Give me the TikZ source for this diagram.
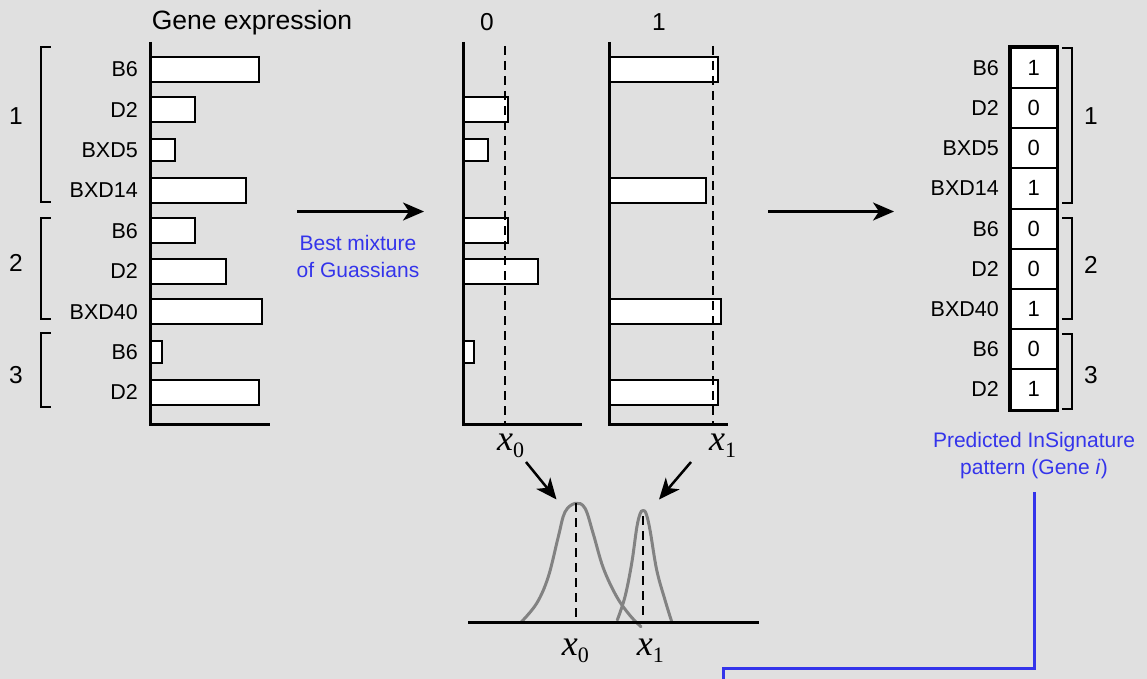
\documentclass[tikz,border=0pt]{standalone}
\usepackage{fontspec}
\setmainfont{Liberation Sans}
\newfontfamily\seriffont{Liberation Serif}
\usetikzlibrary{arrows.meta}
\definecolor{bg}{RGB}{224,224,224}
\definecolor{txtblue}{RGB}{52,52,235}
\definecolor{curvegray}{RGB}{130,130,130}
\newcommand{\xlab}[1]{{\seriffont\fontsize{36}{40}\selectfont\itshape x}{\seriffont\fontsize{22}{24}\selectfont\raisebox{-7.5pt}{#1}}}
\begin{document}
\begin{tikzpicture}[x=1pt,y=-1pt,
  lbl/.style={font=\fontsize{21.5}{24}\selectfont, anchor=east, inner sep=0pt},
  head/.style={font=\fontsize{24.5}{28}\selectfont, inner sep=0pt},
  bar/.style={draw=black, fill=white, line width=2pt},
  axisline/.style={line width=3pt, line join=miter},
  dashline/.style={dash pattern=on 9pt off 6pt, line width=2.2pt},
  brk/.style={line width=2pt},
  bluetxt/.style={text=txtblue, font=\fontsize{21}{27}\selectfont, align=center, inner sep=0pt},
  flow/.style={-{Stealth[length=21pt,width=18pt,inset=6pt]}, line width=2.5pt},
  cell/.style={draw=black, fill=white, line width=2pt, minimum width=46pt, minimum height=40.2pt, inner sep=0pt, font=\fontsize{22}{24}\selectfont},
  gcurve/.style={curvegray, line width=3pt, line cap=round},
  blueline/.style={draw=txtblue, line width=3pt}
]
\fill[bg] (0,0) rectangle (1147,679);
\useasboundingbox (0,0) rectangle (1147,679);

% ---------- headers ----------
\node[head, font=\fontsize{26.5}{30}\selectfont, anchor=base] (ge) at (252,30) {Gene expression};
\node[head, anchor=base] (h0) at (487,30.5) {0};
\node[head, anchor=base] (h1) at (659,30.5) {1};

% ---------- left panel ----------
\foreach \lab [count=\i from 0] in {B6,D2,BXD5,BXD14,B6,D2,BXD40,B6,D2}
  \node[lbl] (L\i) at (138,{69.5+40.35*\i}) {\lab};
\foreach \r/\w/\h in {0/259/12.5,1/195/12.5,2/175/11,3/246/12.5,4/195/12.5,5/226/12.5,6/262/12.5,7/162/11,8/259/12.5}
  \draw[bar] (150,{69.5+40.35*\r-\h}) rectangle (\w,{69.5+40.35*\r+\h});
\draw[axisline] (150,42) -- (150,424) -- (270,424);
\draw[brk] (50.5,47) -- (40.7,47) -- (40.7,202) -- (50.5,202);
\draw[brk] (50.5,218) -- (40.7,218) -- (40.7,319) -- (50.5,319);
\draw[brk] (50.5,333) -- (40.7,333) -- (40.7,407) -- (50.5,407);
\node[head] (n1) at (16,116) {1};
\node[head] (n2) at (16,263) {2};
\node[head] (n3) at (16,375) {3};

% ---------- arrow 1 ----------
\coordinate (a1s) at (297,211.5);
\coordinate (a1e) at (424,211.5);
\draw[flow] (a1s) -- (a1e);
\node[bluetxt, anchor=north] (bm) at (358,235) {Best mixture\\of Guassians};

% ---------- panel 0 ----------
\foreach \r/\w/\h in {1/507.7/12.5,2/487.7/11,4/507.5/12.5,5/538/12.5,7/474.3/11}
  \draw[bar] (463,{69.5+40.35*\r-\h}) rectangle (\w,{69.5+40.35*\r+\h});
\draw[axisline] (463,42) -- (463,424) -- (582,424);
\draw[dashline] (505,46) -- (505,424);
\node[anchor=base west, inner sep=0pt] (x0a) at (497,450) {\xlab{0}};

% ---------- panel 1 ----------
\foreach \r/\w/\h in {0/718.3/12.5,3/705.7/12.5,6/721/12.5,8/717.7/12.5}
  \draw[bar] (609,{69.5+40.35*\r-\h}) rectangle (\w,{69.5+40.35*\r+\h});
\draw[axisline] (609,42) -- (609,424) -- (728,424);
\draw[dashline] (712.7,46) -- (712.7,424);
\node[anchor=base west, inner sep=0pt] (x1a) at (709,450) {\xlab{1}};

% ---------- arrow 2 ----------
\coordinate (a2s) at (768,211.5);
\coordinate (a2e) at (894,211.5);
\draw[flow] (a2s) -- (a2e);

% ---------- gaussians ----------
\coordinate (g0peak) at (575.7,503.3);
\coordinate (g1peak) at (643,511);
\coordinate (t0) at (526,462);
\coordinate (t1) at (691,462);
\draw[flow] (t0) -- (556.5,499.5);
\draw[flow] (t1) -- (659,499.5);
\draw[gcurve] plot[smooth, tension=0.6] coordinates {(521,622.3) (536.7,603.3) (548.3,576.7) (558.3,536.7) (565,512) (575.5,503.3) (585,508.3) (593.3,534) (603.3,568) (616.7,596.7) (630,615.5) (641,626.7)};
\draw[gcurve] plot[smooth, tension=0.6] coordinates {(617.3,620) (625,596.7) (631.7,563.3) (636.7,528) (640,514) (642.7,510.7) (646,513.3) (650,530) (656.7,570) (665,600) (671.7,621.7)};
\draw[line width=3pt] (468,622.3) -- (759,622.3);
\draw[dashline] (g0peak) -- (575.7,622.3);
\draw[dashline] (643.3,516) -- (643.3,622.3);
\node[anchor=base west, inner sep=0pt] (x0b) at (561.7,655) {\xlab{0}};
\node[anchor=base west, inner sep=0pt] (x1b) at (636.7,655) {\xlab{1}};

% ---------- right panel ----------
\foreach \lab/\d [count=\i from 0] in {B6/1,D2/0,BXD5/0,BXD14/1,B6/0,D2/0,BXD40/1,B6/0,D2/1}{
  \node[cell] (c\i) at (1033.7,{67.8+40.2*\i}) {\d};
  \node[lbl] (R\i) at (999,{67.8+40.2*\i}) {\lab};
}
\draw[line width=3.5pt] (c0.north west) rectangle (c8.south east);
\draw[brk] (1062,48.3) -- (1072,48.3) -- (1072,203.3) -- (1062,203.3);
\draw[brk] (1062,218) -- (1072,218) -- (1072,319) -- (1062,319);
\draw[brk] (1062,334) -- (1072,334) -- (1072,409) -- (1062,409);
\node[head] (m1) at (1091,116) {1};
\node[head] (m2) at (1091,265) {2};
\node[head] (m3) at (1091,375) {3};
\node[bluetxt, anchor=north] (pred) at (1034,432.5) {Predicted InSignature\\pattern (Gene \textit{i})};

% ---------- blue connector ----------
\coordinate (b1) at (1034,492);
\coordinate (b2) at (723,668);
\coordinate (b3) at (723,690);
\draw[blueline] (b1) |- (b2) -- (b3);
\end{tikzpicture}
\end{document}
